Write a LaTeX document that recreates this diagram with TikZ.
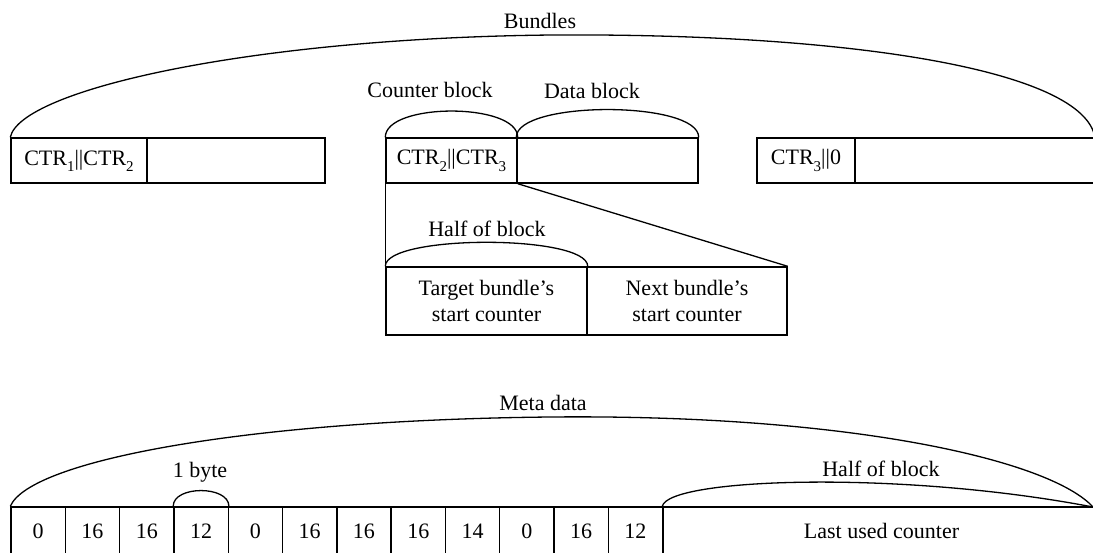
\documentclass[tikz,border=0pt]{standalone}
\usepackage{fontspec}
\setmainfont{Liberation Serif}
% lowered index for counter names
\newcommand{\ctrsub}[1]{\raisebox{-0.28em}{\fontsize{15}{15}\selectfont #1}}
\begin{document}
\begin{tikzpicture}[x=1pt,y=-1pt,
  every node/.style={font=\fontsize{22}{26}\selectfont},
  line/.style={line width=1.3pt},
  cell/.style={draw, line width=1.4pt, inner sep=0pt, minimum height=45pt, anchor=center},
  lbl/.style={anchor=base, inner sep=0pt}]
\useasboundingbox (0,0) rectangle (1093,552);
\clip (0,0) rectangle (1093,552);

% --- Bundle row ---
\node[cell, minimum width=136pt] (b1a) at (79,160.5) {CTR\ctrsub{1}||CTR\ctrsub{2}};
\node[cell, minimum width=178pt] (b1b) at (236,160.5) {};
\node[cell, minimum width=131pt] (b2a) at (451.5,160.5) {CTR\ctrsub{2}||CTR\ctrsub{3}};
\node[cell, minimum width=181pt] (b2b) at (607.5,160.5) {};
\node[cell, minimum width=98pt] (b3a) at (806,160.5) {CTR\ctrsub{3}||0};
\node[cell, minimum width=245pt] (b3b) at (977.5,160.5) {};
\coordinate (bend) at (1095,138);

% Bundles brace
\draw[line] (b1a.north west) .. controls (20,90) and (250,38) .. (552,35)
  .. controls (850,33) and (1085,70) .. (bend);
\node[lbl] (lbundles) at (540,28) {Bundles};

% Counter block / data block braces
\draw[line] (b2a.north west) .. controls +(0,-35) and +(0,-35) .. (b2a.north east);
\draw[line] (b2b.north west) .. controls +(0,-37) and +(0,-37) .. (b2b.north east);
\node[lbl] (lcounter) at (430,97) {Counter block};
\node[lbl] (ldata) at (592,98) {Data block};

% --- Expanded counter block ---
\node[cell, minimum width=201pt, minimum height=68pt, align=center] (t1) at (486.5,301)
  {Target bundle's\\start counter};
\node[cell, minimum width=200pt, minimum height=68pt, align=center] (t2) at (687,301)
  {Next bundle's\\start counter};
\draw[line] (b2a.south west) -- (t1.north west);
\draw[line] (b2a.south east) -- (t2.north east);
\draw[line] (t1.north west) .. controls +(0,-32) and +(0,-32) .. (t1.north east);
\node[lbl] (lhalf1) at (487,236) {Half of block};

% --- Meta data row ---
\foreach \v [count=\i from 0] in {0,16,16,12,0,16,16,16,14,0,16,12} {
  \node[cell, minimum width=54.3pt, minimum height=48pt] (m\i) at ({11+54.3*\i+27.15},531) {\v};
}
\node[cell, minimum width=437pt, minimum height=48pt] (mlast) at (881.5,531) {Last used counter};
\coordinate (mend) at (1093,507);

\draw[line] (m0.north west) .. controls (30,460) and (250,420) .. (550,417)
  .. controls (850,414) and (1050,460) .. (mend);
\node[lbl] (lmeta) at (543,410) {Meta data};

\draw[line] (m3.north west) .. controls +(0,-21) and +(0,-21) .. (m3.north east);
\node[lbl] (lbyte) at (200,477) {1 byte};

\draw[line] (mlast.north west) .. controls (668,478) and (900,470) .. (mend);
\node[lbl] (lhalf2) at (881,476) {Half of block};
\end{tikzpicture}
\end{document}
